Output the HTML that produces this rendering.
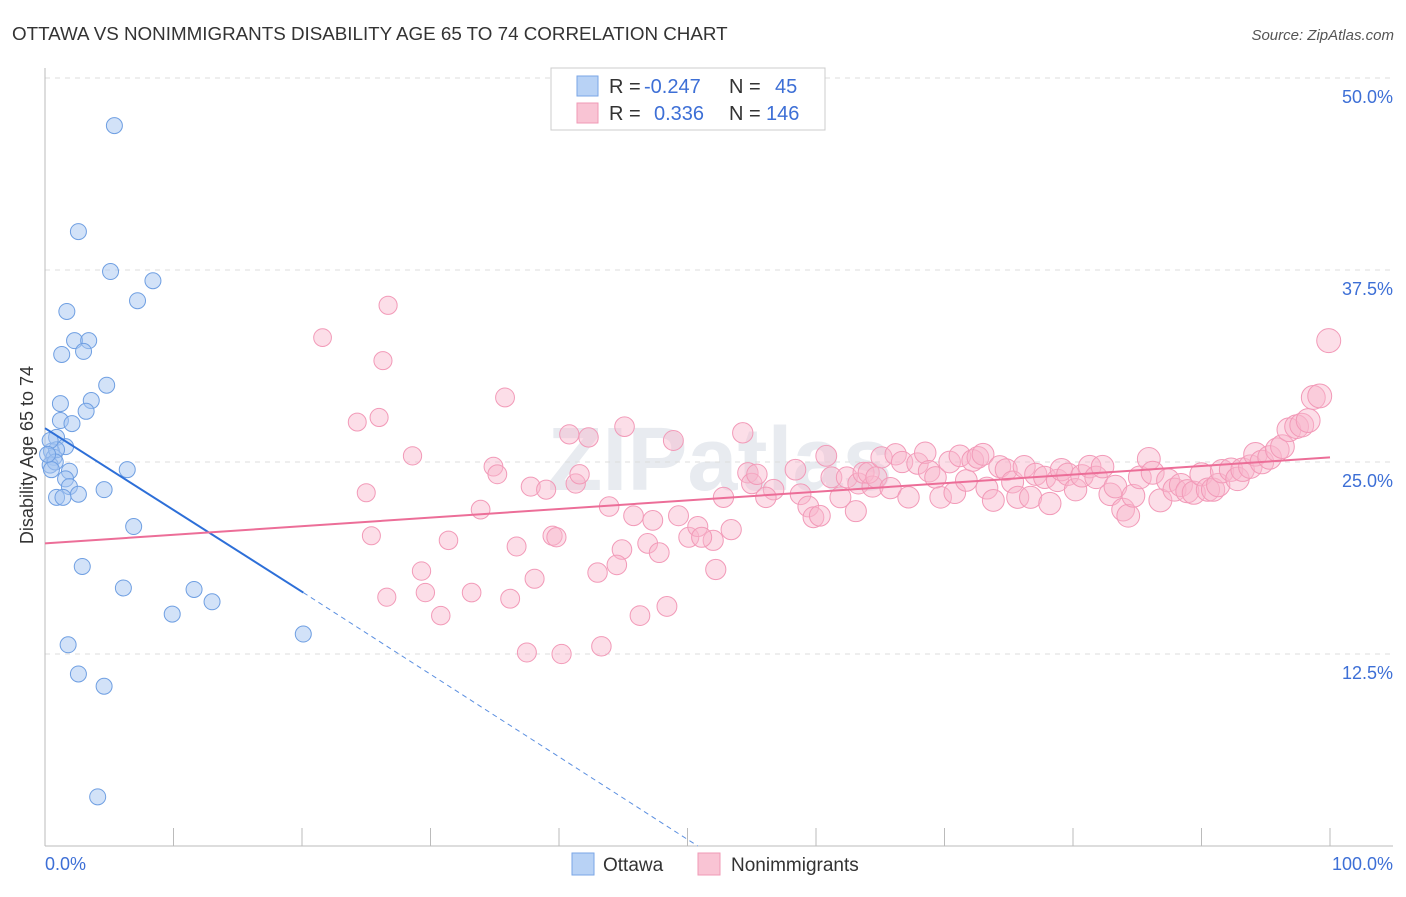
<!DOCTYPE html>
<html><head><meta charset="utf-8"><style>
body{margin:0;background:#fff;font-family:"Liberation Sans",sans-serif}
svg text{font-family:"Liberation Sans",sans-serif}
</style></head><body>
<svg id="chart" width="1406" height="892" xmlns="http://www.w3.org/2000/svg">
<text x="12" y="40" font-size="18.8" fill="#333">OTTAWA VS NONIMMIGRANTS DISABILITY AGE 65 TO 74 CORRELATION CHART</text>
<text x="1394" y="40" font-size="15" fill="#555" font-style="italic" text-anchor="end">Source: ZipAtlas.com</text>
<text x="720" y="490" font-size="90" fill="#e8ebf0" text-anchor="middle" font-weight="bold">ZIPatlas</text>
<g id="grid"></g>
<g id="axes"></g>
<g id="marks"></g>
<g id="lines"></g>
<text transform="translate(33,455) rotate(-90)" font-size="18" fill="#333" text-anchor="middle">Disability Age 65 to 74</text>
<g>
<rect x="551" y="68" width="274" height="62" fill="#fff" stroke="#ccc"/>
<rect x="577" y="76" width="21" height="20" fill="#b8d2f5" stroke="#7aa6e6"/>
<rect x="577" y="103" width="21" height="20" fill="#f9c4d4" stroke="#f09ab6"/>
<text x="609" y="93" font-size="20" fill="#333">R = </text><text x="644" y="93" font-size="20" fill="#3d6fd6">-0.247</text>
<text x="729" y="93" font-size="20" fill="#333">N = </text><text x="775" y="93" font-size="20" fill="#3d6fd6">45</text>
<text x="609" y="120" font-size="20" fill="#333">R = </text><text x="654" y="120" font-size="20" fill="#3d6fd6">0.336</text>
<text x="729" y="120" font-size="20" fill="#333">N = </text><text x="766" y="120" font-size="20" fill="#3d6fd6">146</text>
</g>
<g>
<rect x="572" y="853" width="22" height="22" fill="#b8d2f5" stroke="#7aa6e6"/>
<text x="603" y="871" font-size="19" fill="#333">Ottawa</text>
<rect x="698" y="853" width="22" height="22" fill="#f9c4d4" stroke="#f09ab6"/>
<text x="731" y="871" font-size="19" fill="#333">Nonimmigrants</text>
</g>
</svg>
<script>
const blueX=[5.4,2.6,5.1,8.4,7.2,1.7,2.3,3.4,1.3,3.0,4.8,3.6,1.2,3.2,1.2,2.1,0.9,1.6,0.5,0.7,0.9,0.4,0.8,6.4,1.9,1.6,1.9,4.6,0.9,2.6,1.4,6.9,2.9,6.1,11.6,9.9,13.0,20.1,1.8,2.6,4.6,4.1,0.5,0.4,0.2];
const blueY=[46.9,40.0,37.4,36.8,35.5,34.8,32.9,32.9,32.0,32.2,30.0,29.0,28.8,28.3,27.7,27.5,26.6,26.0,25.7,25.3,25.8,24.8,25.0,24.5,24.4,23.9,23.4,23.2,22.7,22.9,22.7,20.8,18.2,16.8,16.7,15.1,15.9,13.8,13.1,11.2,10.4,3.2,24.5,26.4,25.5];
const pinkX=[26.7,21.6,26.3,35.8,24.3,26.0,28.6,34.9,35.2,25.0,33.9,37.8,39.0,41.3,41.6,45.1,40.8,42.3,48.9,54.3,25.4,31.4,36.7,39.5,39.8,29.3,44.9,46.9,47.8,43.9,45.8,47.3,49.3,50.1,50.8,52.0,51.1,53.4,26.6,29.6,33.2,36.2,38.1,43.0,44.5,48.4,46.3,30.8,37.5,40.2,43.3,52.2,52.8,54.7,55.0,55.4,56.7,56.1,58.4,58.8,59.4,59.8,60.3,60.8,61.2,61.9,62.4,63.1,63.3,63.7,64.4,64.1,64.7,65.1,65.8,66.2,66.7,67.2,67.9,68.5,68.8,69.3,69.7,70.4,70.8,71.2,71.7,72.2,72.6,73.0,73.3,73.8,74.3,74.8,75.3,75.7,76.2,76.7,77.1,77.8,78.2,78.8,79.1,79.6,80.2,80.7,81.3,81.8,82.3,82.9,83.3,83.9,84.3,84.7,85.2,85.9,86.2,86.8,87.4,87.9,88.4,88.9,89.4,90.0,90.5,90.9,91.3,91.6,92.3,92.8,93.2,93.8,94.2,94.7,95.3,95.9,96.3,96.8,97.4,97.8,98.3,98.7,99.2,99.9];
const pinkY=[35.2,33.1,31.6,29.2,27.6,27.9,25.4,24.7,24.2,23.0,21.9,23.4,23.2,23.6,24.2,27.3,26.8,26.6,26.4,26.9,20.2,19.9,19.5,20.2,20.1,17.9,19.3,19.7,19.1,22.1,21.5,21.2,21.5,20.1,20.8,19.9,20.1,20.6,16.2,16.5,16.5,16.1,17.4,17.8,18.3,15.6,15.0,15.0,12.6,12.5,13.0,18.0,22.7,24.3,23.6,24.2,23.2,22.7,24.5,22.9,22.1,21.4,21.5,25.4,24.0,22.7,24.0,21.8,23.6,24.3,23.4,24.3,24.0,25.3,23.3,25.5,25.0,22.7,24.9,25.6,24.4,24.0,22.7,25.0,23.0,25.4,23.8,25.1,25.3,25.5,23.3,22.5,24.7,24.5,23.7,22.7,24.7,22.7,24.2,24.0,22.3,23.8,24.5,24.2,23.2,24.1,24.7,24.0,24.7,22.9,23.4,21.9,21.5,22.8,24.0,25.2,24.3,22.5,23.8,23.2,23.5,23.1,23.0,24.2,23.2,23.2,23.5,24.4,24.5,23.9,24.5,24.7,25.5,25.0,25.3,25.8,26.0,27.1,27.3,27.4,27.7,29.2,29.3,32.9];
const yTicks=[12.5,25.0,37.5,50.0];
const yTickLabels=["12.5%","25.0%","37.5%","50.0%"];
const xTicks=[0,10,20,30,40,50,60,70,80,90,100];
const blueTrend=[[0,27.2],[20.1,16.5],[50.8,0]];
const pinkTrend=[[0,19.7],[100,25.3]];

const NS="http://www.w3.org/2000/svg";
const X=v=>45+v*12.85, Y=v=>846-v*15.36;
function mk(t,a,p){const e=document.createElementNS(NS,t);for(const k in a)e.setAttribute(k,a[k]);p.appendChild(e);return e;}
const grid=document.getElementById('grid'),axes=document.getElementById('axes'),marks=document.getElementById('marks'),lines=document.getElementById('lines');
yTicks.forEach((t,i)=>{
 const l=mk('line',{x1:45,x2:1393,y1:Y(t),y2:Y(t),stroke:'#ddd','stroke-dasharray':'5,5'},grid);
 
 
 const tx=mk('text',{x:1393,y:Y(t)+25,'font-size':18,fill:'#3d6fd6','text-anchor':'end'},axes);
 tx.textContent=yTickLabels[i];
 
 
});
const ya=mk('line',{x1:45,x2:45,y1:68,y2:846,stroke:'#bbb'},axes);


const xa=mk('line',{x1:45,x2:1393,y1:846,y2:846,stroke:'#bbb'},axes);


xTicks.forEach(t=>{
 const l=mk('line',{x1:X(t),x2:X(t),y1:828,y2:846,stroke:'#bbb'},axes);
 
 
});
const x0=mk('text',{x:45,y:870,'font-size':18,fill:'#3d6fd6'},axes);x0.textContent='0.0%';


const x1=mk('text',{x:1393,y:870,'font-size':18,fill:'#3d6fd6','text-anchor':'end'},axes);x1.textContent='100.0%';


pinkX.forEach((v,i)=>{
 const c=mk('circle',{cx:X(v),cy:Y(pinkY[i]),r:8+4*v/100,fill:'rgba(248,182,204,0.45)',stroke:'#f29ab8','stroke-width':1},marks);
 
 
});
blueX.forEach((v,i)=>{
 const c=mk('circle',{cx:X(v),cy:Y(blueY[i]),r:8,fill:'rgba(165,198,242,0.5)',stroke:'#6f9fe2','stroke-width':1},marks);
 
 
});
const b1=mk('line',{x1:X(blueTrend[0][0]),y1:Y(blueTrend[0][1]),x2:X(blueTrend[1][0]),y2:Y(blueTrend[1][1]),stroke:'#2d6fd8','stroke-width':2},lines);


const b2=mk('line',{x1:X(blueTrend[1][0]),y1:Y(blueTrend[1][1]),x2:X(blueTrend[2][0]),y2:Y(blueTrend[2][1]),stroke:'#5b8fe0','stroke-width':1,'stroke-dasharray':'5,4'},lines);


const p1=mk('line',{x1:X(pinkTrend[0][0]),y1:Y(pinkTrend[0][1]),x2:X(pinkTrend[1][0]),y2:Y(pinkTrend[1][1]),stroke:'#ec6e98','stroke-width':2},lines);


</script>
</body></html>
